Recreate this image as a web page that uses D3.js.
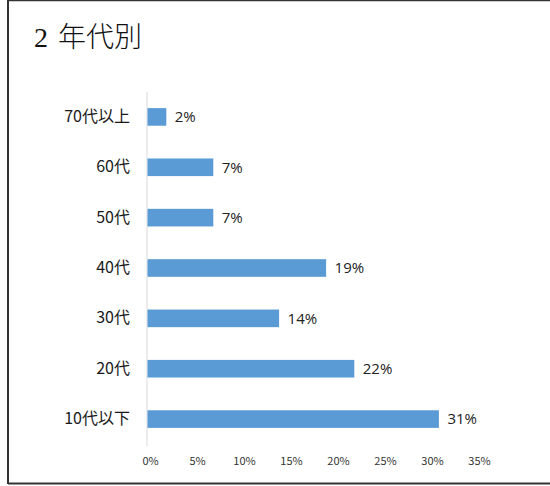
<html lang="ja">
<head>
  <meta charset="UTF-8">
  <title>2年代別</title>
  <script src="https://d3js.org/d3.v7.min.js"></script>
</head>
<style>
  body { margin: 0; background: #fff; }
  .axis text { font-family: "Noto Sans CJK JP", "Open Sans", sans-serif; }
  .title-digit { font-family: "Liberation Serif", "DejaVu Serif", serif; }
</style>
<body>
  <svg class="agesvg" width="550" height="486"></svg>
  <script>
    // data
    const ageGroups = ['70代以上', '60代', '50代', '40代', '30代', '20代', '10代以下'];
    const shares = [2, 7, 7, 19, 14, 22, 31];
    const tickValues = [0, 5, 10, 15, 20, 25, 30, 35];

    const svg = d3.select('svg.agesvg');

    // frame: left, top and bottom edges only
    svg.append('line').attr('x1', 8).attr('x2', 8).attr('y1', 0).attr('y2', 484)
      .attr('stroke', '#333').attr('stroke-width', 2);
    svg.append('line').attr('x1', 8).attr('x2', 550).attr('y1', 0.5).attr('y2', 0.5)
      .attr('stroke', '#333').attr('stroke-width', 1.5);
    svg.append('line').attr('x1', 8).attr('x2', 550).attr('y1', 483.5).attr('y2', 483.5)
      .attr('stroke', '#333').attr('stroke-width', 2);

    // title: serif digit, then kanji
    const title = svg.append('text')
      .attr('x', 34).attr('y', 47)
      .attr('font-size', 28)
      .attr('fill', '#111');
    title.append('tspan')
      .attr('class', 'title-digit')
      .text('2');
    title.append('tspan')
      .attr('dx', 10)
      .attr('font-family', '"Noto Sans CJK JP", sans-serif')
      .attr('font-weight', 300)
      .text('年代別');

    const xScale = d3.scaleLinear().domain([0, 35]).range([147, 476]);
    const yScale = d3.scaleBand().domain(ageGroups).range([92, 444]).paddingInner(0.65).paddingOuter(0.32);

    // vertical axis line
    svg.append('line')
      .attr('x1', xScale(0)).attr('x2', xScale(0))
      .attr('y1', 92).attr('y2', 446)
      .attr('stroke', '#d9d9d9');

    // bars
    svg.append('g').selectAll('rect')
      .data(shares)
      .join('rect')
      .attr('x', xScale(0) + 0.5)
      .attr('y', (d, i) => yScale(ageGroups[i]))
      .attr('width', d => xScale(d) - xScale(0))
      .attr('height', yScale.bandwidth())
      .attr('fill', '#5b9bd5');

    // value labels
    svg.append('g').selectAll('text')
      .data(shares)
      .join('text')
      .attr('x', d => xScale(d) + 9)
      .attr('y', (d, i) => yScale(ageGroups[i]) + yScale.bandwidth() / 2)
      .attr('dy', '0.36em')
      .attr('font-family', '"Open Sans", "Noto Sans CJK JP", sans-serif')
      .attr('font-size', 15)
      .attr('fill', '#222')
      .text(d => d + '%');

    // category labels
    const leftAxis = d3.axisLeft(yScale).tickSize(0).tickPadding(17);
    svg.append('g')
      .attr('class', 'axis')
      .attr('transform', `translate(${xScale(0)},0)`)
      .call(leftAxis)
      .call(g => g.select('.domain').remove())
      .selectAll('text')
      .attr('font-size', 16)
      .attr('fill', '#1a1a1a');

    // bottom tick labels
    const bottomAxis = d3.axisBottom(xScale).tickValues(tickValues).tickSize(0).tickPadding(0)
      .tickFormat(d => d + '%');
    svg.append('g')
      .attr('class', 'axis')
      .attr('transform', 'translate(3,457)')
      .call(bottomAxis)
      .call(g => g.select('.domain').remove())
      .selectAll('text')
      .attr('font-size', 11)
      .attr('fill', '#333');
  </script>
</body>
</html>
